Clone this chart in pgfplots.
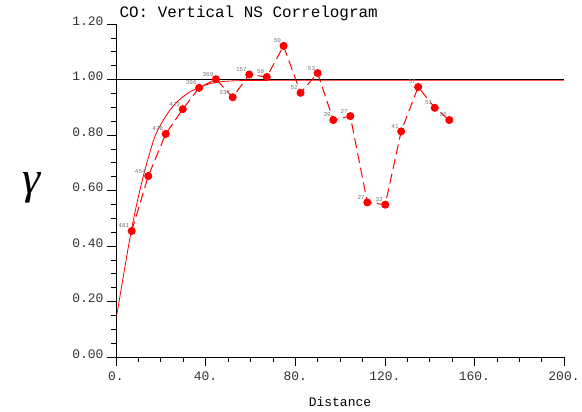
\documentclass[border=0pt]{standalone}
\usepackage{fontspec}
\setmainfont{Liberation Mono}
\newfontfamily\gfont{Liberation Serif}
\usepackage{pgfplots}
\pgfplotsset{compat=1.18}
\begin{document}
\begin{tikzpicture}
\path[use as bounding box] (-116bp,-55bp) rectangle (466bp,357bp);
\begin{axis}[
  at={(0,0)}, anchor=south west, scale only axis,
  width=448bp, height=333bp,
  xmin=0, xmax=200, ymin=0, ymax=1.2,
  axis lines=left, axis line style={-, line width=0.8bp, black},
  xtick={0,40,80,120,160,200},
  xticklabels={0.,40.,80.,120.,160.,200.},
  ytick={0,0.2,0.4,0.6,0.8,1.0,1.2},
  yticklabels={0.00,0.20,0.40,0.60,0.80,1.00,1.20},
  minor x tick num=3, minor y tick num=3,
  tick align=outside, major tick length=9bp, minor tick length=5bp,
  tick style={black, line width=0.6bp},
  ticklabel style={font=\fontsize{13}{13}\selectfont, text=black!80},
  xticklabel style={anchor=north, yshift=-2bp},
  yticklabel style={anchor=east, yshift=3bp},
  title={CO: Vertical NS Correlogram},
  title style={at={(axis description cs:0,1)}, anchor=base west, yshift=1bp, xshift=0bp, font=\fontsize{16}{16}\selectfont},
  xlabel={Distance},
  xlabel style={at={(axis description cs:0.5,0)}, anchor=base, yshift=-49bp, font=\fontsize{13}{13}\selectfont},
  ylabel={\gfont\itshape\fontsize{46}{46}\selectfont γ},
  ylabel style={rotate=-90, at={(axis description cs:-0.188,0.507)}, anchor=center},
  clip=false,
]
\addplot[red, line width=0.8bp, smooth, no marks] coordinates {
(0.3,0.149) (2,0.23) (4,0.325) (6.6,0.446) (9.5,0.56) (12.2,0.652) (14.5,0.72)
(17.4,0.795) (20.5,0.845) (24.1,0.89) (28,0.925) (32,0.95) (36,0.968) (42,0.985)
(48,0.993) (56,0.996) (70,0.997) (100,0.997) (200,0.997)};
\addplot[black, line width=0.8bp, no marks] coordinates {(0,1) (200,1)};
\addplot[red, line width=1bp, dash pattern=on 10bp off 5bp,
  mark=*, mark size=3.5bp, mark options={solid, fill=red, draw=red},
  point meta=explicit symbolic, nodes near coords,
  every node near coord/.append style={anchor=east, xshift=-2bp, yshift=5bp,
    font=\fontsize{6}{6}\selectfont, text=black!55, inner sep=0pt}]
  table[meta=label] {
x y label
7.0 0.454 481
14.4 0.652 454
22.2 0.804 428
29.8 0.893 422
37.1 0.970 396
44.6 1.001 369
52.1 0.936 337
59.5 1.018 157
67.3 1.009 50
74.8 1.121 50
82.4 0.952 52
90.0 1.023 53
97.0 0.854 39
104.6 0.868 27
112.2 0.557 27
120.2 0.549 33
127.3 0.813 41
134.9 0.973 57
142.3 0.898 51
148.8 0.854 36
};
\end{axis}
\end{tikzpicture}
\end{document}
